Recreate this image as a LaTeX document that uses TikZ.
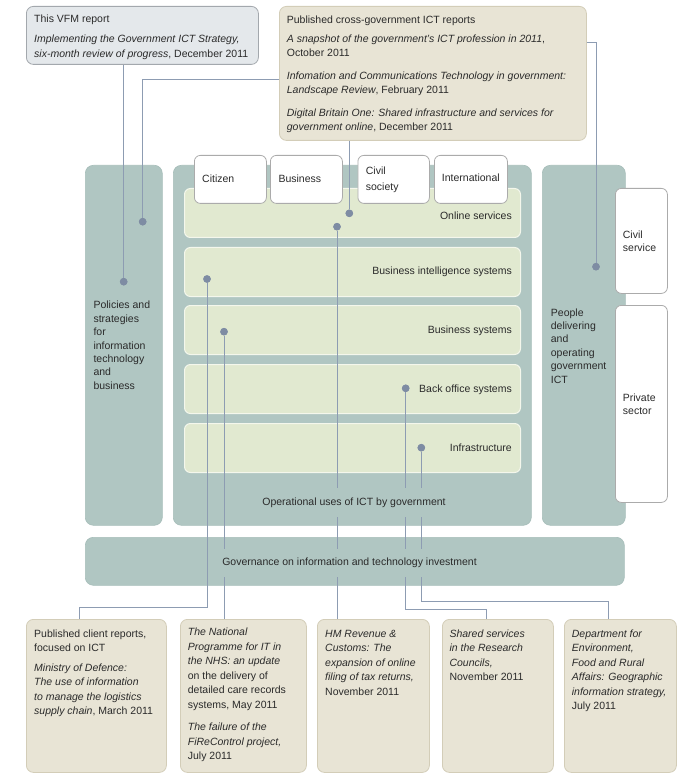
\documentclass[tikz,border=0pt]{standalone}
\usepackage{fontspec}
\setmainfont{Liberation Sans}
\definecolor{panelc}{HTML}{B0C6C2}
\definecolor{panelb}{HTML}{A6BDB9}
\definecolor{layerc}{HTML}{E1E9D0}
\definecolor{layerb}{HTML}{F4F7EC}
\definecolor{beigec}{HTML}{E8E4D5}
\definecolor{beigeb}{HTML}{D3CDB8}
\definecolor{vfmc}{HTML}{E4E8EB}
\definecolor{vfmb}{HTML}{A3A8AD}
\definecolor{whiteb}{HTML}{ABABAB}
\definecolor{linec}{HTML}{8D9CB2}
\definecolor{dotc}{HTML}{7E8CA3}
\definecolor{txtc}{HTML}{2A2A2A}
\begin{document}
\begin{tikzpicture}[x=1pt,y=-1pt,
  every node/.style={font=\fontsize{10.5}{14.5}\selectfont, text=txtc},
  boxbase/.style={rectangle, inner sep=0pt, anchor=north west},
  panel/.style={boxbase, fill=panelc, draw=panelb, line width=0.6pt, rounded corners=8pt},
  layer/.style={boxbase, fill=layerc, draw=layerb, line width=1pt, rounded corners=6pt},
  wbox/.style={boxbase, fill=white, draw=whiteb, line width=0.8pt, rounded corners=6pt},
  bbox/.style={boxbase, fill=beigec, draw=beigeb, line width=0.8pt, rounded corners=7pt},
  vbox/.style={boxbase, fill=vfmc, draw=vfmb, line width=0.8pt, rounded corners=7pt},
  conn/.style={draw=linec, line width=0.9pt},
  dot/.style={circle, fill=dotc, inner sep=0pt, minimum size=7.5pt},
  txt/.style={align=left, anchor=north west, inner sep=0pt},
  txtb/.style={txt, font=\fontsize{10.5}{13.4}\selectfont},
  lbl/.style={anchor=base west, inner sep=0pt},
  rlbl/.style={anchor=base east, inner sep=0pt},
  mask/.style={fill=panelc, inner xsep=1.5pt, inner ysep=0pt, anchor=center}
]
\useasboundingbox (0,0) rectangle (697,783);

% ---------- panels ----------
\node[panel, minimum width=77pt, minimum height=360pt] (policies) at (85,165) {};
\node[panel, minimum width=358pt, minimum height=360pt] (central) at (173,165) {};
\node[panel, minimum width=83pt, minimum height=360pt] (people) at (542,165) {};
\node[panel, minimum width=539pt, minimum height=48pt] (gov) at (85,537) {};

% ---------- layers ----------
\node[layer, minimum width=336pt, minimum height=49pt] (online) at (184,188) {};
\node[layer, minimum width=336pt, minimum height=49pt] (bi) at (184,247) {};
\node[layer, minimum width=336pt, minimum height=49pt] (bs) at (184,305) {};
\node[layer, minimum width=336pt, minimum height=49pt] (bo) at (184,364) {};
\node[layer, minimum width=336pt, minimum height=49pt] (infra) at (184,423) {};

% ---------- white boxes ----------
\node[wbox, minimum width=72pt, minimum height=48pt] (citizen) at (194,155) {};
\node[wbox, minimum width=72pt, minimum height=48pt] (business) at (270,155) {};
\node[wbox, minimum width=71.5pt, minimum height=48pt] (civsoc) at (357.5,155) {};
\node[wbox, minimum width=73pt, minimum height=48pt] (intl) at (434,155) {};
\node[wbox, minimum width=52pt, minimum height=105pt] (civser) at (615,188) {};
\node[wbox, minimum width=52pt, minimum height=197pt] (private) at (615,305) {};

% ---------- top boxes ----------
\node[vbox, minimum width=232pt, minimum height=58pt] (vfm) at (26,6) {};
\node[bbox, minimum width=307pt, minimum height=134pt] (cross) at (279,6) {};

% ---------- bottom boxes ----------
\node[bbox, minimum width=140pt, minimum height=153pt] (box1) at (26,619) {};
\node[bbox, minimum width=126pt, minimum height=153pt] (box2) at (180,619) {};
\node[bbox, minimum width=112pt, minimum height=153pt] (box3) at (317,619) {};
\node[bbox, minimum width=111pt, minimum height=153pt] (box4) at (442,619) {};
\node[bbox, minimum width=112pt, minimum height=153pt] (box5) at (564,619) {};

% ---------- dots ----------
\node[dot] (d1) at (123.7,281.7) {};
\node[dot] (d2) at (142.7,221.7) {};
\node[dot] (d3) at (349.3,213.3) {};
\node[dot] (d4) at (596,266.7) {};
\node[dot] (d5) at (207,279) {};
\node[dot] (d6) at (224,331.7) {};
\node[dot] (d7) at (337,226.7) {};
\node[dot] (d8) at (405.7,388.3) {};
\node[dot] (d9) at (421.3,447.7) {};
\coordinate (k5) at (79.3,607.3);
\coordinate (k8) at (486.7,609);
\coordinate (k9) at (608.3,601.7);

% ---------- connectors ----------
\draw[conn] (d1 |- vfm.south) -- (d1);
\draw[conn] ([yshift=-6pt]cross.west) -| (d2);
\draw[conn] (d3 |- cross.south) -- (d3);
\draw[conn] ([yshift=-36pt]cross.north east) -| (d4);
\draw[conn] (d5) |- (k5) -- (k5 |- box1.north);
\draw[conn] (d6) -- (d6 |- box2.north);
\draw[conn] (d7) -- (d7 |- box3.north);
\draw[conn] (d8) |- (k8) -- (k8 |- box4.north);
\draw[conn] (d9) |- (k9) -- (k9 |- box5.north);
% redraw dots on top
\foreach \d in {d1,d2,d3,d4,d5,d6,d7,d8,d9} \fill[dotc] (\d) circle (3.75pt);

% ---------- masked labels ----------
\node[mask, minimum height=29pt] (oplbl) at (354,502.3) {Operational uses of ICT by government};
\node[mask, minimum height=28pt] (govlbl) at (349.5,563) {Governance on information and technology investment};

% ---------- layer labels ----------
\node[rlbl] (lonline) at (512,219.7) {Online services};
\node[rlbl] (lbi) at (512,274.7) {Business intelligence systems};
\node[rlbl] (lbs) at (512,333.7) {Business systems};
\node[rlbl] (lbo) at (512,392) {Back office systems};
\node[rlbl] (linfra) at (512,451) {Infrastructure};

% ---------- stakeholder labels ----------
\node[lbl] (tcitizen) at (202,182.9) {Citizen};
\node[lbl] (tbusiness) at (278.3,182.9) {Business};
\node[txt, font=\fontsize{10.5}{16}\selectfont] (tcivsoc) at (365.7,163) {\strut Civil\\society};
\node[lbl] (tintl) at (441.7,182) {International};

% ---------- side texts ----------
\node[txtb] (tpolicies) at (93.3,299.3) {\strut Policies and\\strategies\\for\\information\\technology\\and\\business};
\node[txtb] (tpeople) at (550.7,306.6) {\strut People\\delivering\\and\\operating\\government\\ICT};
\node[txt, font=\fontsize{10.5}{13.2}\selectfont] (tcivser) at (622.7,228.8) {\strut Civil\\service};
\node[txt, font=\fontsize{10.5}{13.2}\selectfont] (tprivate) at (622.7,391.8) {\strut Private\\sector};

% ---------- top texts ----------
\node[txt, font=\fontsize{10.5}{15}\selectfont] (tvfm) at (34,12.2) {\strut This VFM report\\[5pt]
  \textit{Implementing the Government ICT Strategy,}\\
  \textit{six-month review of progress}, December 2011};
\node[txt] (tcross) at (286.7,13.55) {\strut Published cross-government ICT reports\\[4pt]
  \textit{A snapshot of the government's ICT profession in 2011},\\
  October 2011\\[8pt]
  \textit{Infomation and Communications Technology in government:}\\
  \textit{Landscape Review}, February 2011\\[8pt]
  \textit{Digital Britain One: Shared infrastructure and services for}\\
  \textit{government online}, December 2011};

% ---------- bottom texts ----------
\node[txt] (tbox1) at (34,626.85) {\strut Published client reports,\\
  focused on ICT\\[5pt]
  \textit{Ministry of Defence:}\\
  \textit{The use of information}\\
  \textit{to manage the logistics}\\
  \textit{supply chain}, March 2011};
\node[txt] (tbox2) at (187.7,625.25) {\strut\textit{The National}\\
  \textit{Programme for IT in}\\
  \textit{the NHS: an update}\\
  on the delivery of\\
  detailed care records\\
  systems, May 2011\\[8pt]
  \textit{The failure of the}\\
  \textit{FiReControl project,}\\
  July 2011};
\node[txt] (tbox3) at (325,626.85) {\strut\textit{HM Revenue \&}\\
  \textit{Customs: The}\\
  \textit{expansion of online}\\
  \textit{filing of tax returns,}\\
  November 2011};
\node[txt] (tbox4) at (449.3,626.85) {\strut\textit{Shared services}\\
  \textit{in the Research}\\
  \textit{Councils,}\\
  November 2011};
\node[txt] (tbox5) at (571.7,626.85) {\strut\textit{Department for}\\
  \textit{Environment,}\\
  \textit{Food and Rural}\\
  \textit{Affairs: Geographic}\\
  \textit{information strategy,}\\
  July 2011};
\end{tikzpicture}
\end{document}
